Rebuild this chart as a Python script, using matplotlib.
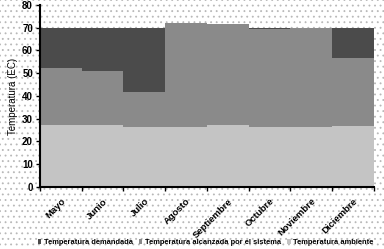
import matplotlib
matplotlib.use("Agg")
import matplotlib.pyplot as plt
import numpy as np

months = ["Mayo", "Junio", "Julio", "Agosto", "Septiembre", "Octubre", "Noviembre", "Diciembre"]
t_demandada = [70, 70, 70, 70, 70, 70, 70, 70]
t_sistema = [52.4, 51.1, 41.9, 72.0, 71.5, 69.3, 70.0, 56.6]
t_ambiente = [27.3, 27.4, 26.2, 26.2, 27.4, 26.5, 26.5, 27.0]

plt.rcParams['font.family'] = ['Liberation Sans', 'DejaVu Sans']
plt.rcParams['font.weight'] = 'bold'
plt.rcParams['hatch.color'] = '#b8b8b8'
plt.rcParams['hatch.linewidth'] = 0.6

fig = plt.figure(figsize=(3.84, 2.49), dpi=100)
fig.patch.set_facecolor('white')
fig.patch.set_hatch('...')
fig.patch.set_edgecolor('#b8b8b8')
fig.patch.set_linewidth(0)

ax = fig.add_axes([0.104, 0.249, 0.87, 0.731])
ax.set_facecolor('none')

x = np.arange(len(months))
ax.bar(x, t_demandada, width=1.0, color='#4b4b4b', label='Temperatura demandada')
ax.bar(x, t_sistema, width=1.0, color='#8a8a8a', label='Temperatura alcanzada por el sistema')
ax.bar(x, t_ambiente, width=1.0, color='#c4c4c4', label='Temperatura ambiente')

ax.set_xlim(-0.5, len(months) - 0.5)
ax.set_ylim(0, 80)
ax.set_yticks(range(0, 81, 10))
ax.tick_params(axis='y', labelsize=7, length=3, width=1, pad=2)
ax.set_xticks(x)
ax.set_xticklabels(months, rotation=45, ha='right', rotation_mode='anchor', fontsize=6.8)
ax.tick_params(axis='x', which='major', length=0, pad=7)
ax.set_xticks(np.arange(-0.5, len(months)), minor=True)
ax.tick_params(axis='x', which='minor', length=3, width=1)
ax.set_ylabel('Temperatura (ÈC)', fontsize=7, labelpad=3)

for s in ['top', 'right']:
    ax.spines[s].set_visible(False)
for s in ['left', 'bottom']:
    ax.spines[s].set_linewidth(1.5)

fig.legend(loc='center', bbox_to_anchor=(0.535, 0.026), ncol=3, frameon=False,
           fontsize=5.4, handlelength=0.5, handleheight=0.5, handletextpad=0.3,
           columnspacing=0.8, borderpad=0, borderaxespad=0)

fig.savefig('out.png', dpi=100)
